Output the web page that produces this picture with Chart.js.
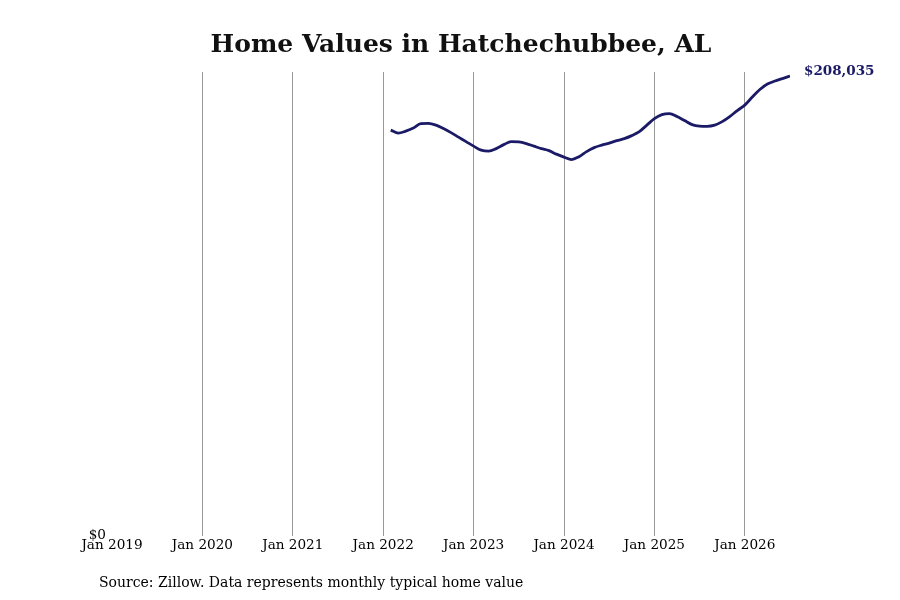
<!DOCTYPE html>
<html>
<head>
<meta charset="utf-8">
<script src="https://cdn.jsdelivr.net/npm/chart.js@4.4.1/dist/chart.umd.min.js"></script>
<style>
  html, body { margin: 0; padding: 0; background: #fff; }
  #wrap { width: 900px; height: 600px; }
</style>
</head>
<body>
<div id="wrap"><canvas id="chart" width="900" height="600"></canvas></div>
<script>
// monthly typical home value, Feb 2022 .. Jul 2026
const startMonth = "2022-02";
const homeValues = [
  183546, 182186, 183093, 184452, 186492, 186580, 185812, 184226, 182413, 180374, 178334,
  176295, 174482, 174029, 175162, 176975, 178334, 178198, 177428, 176295, 175162, 174255, 172669,
  171310, 170177, 171536, 173802, 175615, 176748, 177654, 178787, 179694, 181053, 182866, 185812,
  188758, 190571, 191024, 189664, 187851, 186038, 185359, 185268, 185812, 187398, 189664, 192383,
  194876, 198502, 201901, 204393, 205753, 206886, 208035
];
const tickYears = [2019, 2020, 2021, 2022, 2023, 2024, 2025, 2026];
const yTicks = [0];

const firstYear = tickYears[0];
const [sy, sm] = startMonth.split("-").map(Number);
const startIdx = (sy - firstYear) * 12 + (sm - 1);
const points = homeValues.map((v, i) => ({ x: startIdx + i, y: v }));
const lastIdx = startIdx + homeValues.length - 1;

const serif = "'DejaVu Serif', serif";
const navy = "#1a1a66";

// title, end label and source note
const textPlugin = {
  id: "texts",
  afterDraw(chart) {
    const { ctx } = chart;
    ctx.save();
    ctx.fillStyle = "#111";
    ctx.font = "bold 25px " + serif;
    ctx.textAlign = "center";
    ctx.textBaseline = "alphabetic";
    ctx.fillText("Home Values in Hatchechubbee, AL", 461, 52);

    const meta = chart.getDatasetMeta(0);
    const last = meta.data[meta.data.length - 1];
    ctx.fillStyle = navy;
    ctx.font = "bold 13.5px " + serif;
    ctx.textAlign = "left";
    ctx.textBaseline = "middle";
    ctx.fillText("$" + homeValues[homeValues.length - 1].toLocaleString("en-US"), last.x + 14, last.y - 5);

    ctx.fillStyle = "#000";
    ctx.font = "14px " + serif;
    ctx.textBaseline = "alphabetic";
    ctx.fillText("Source: Zillow. Data represents monthly typical home value", 99, 587);
    ctx.restore();
  }
};

new Chart(document.getElementById("chart"), {
  type: "line",
  data: {
    datasets: [{
      data: points,
      borderColor: navy,
      borderWidth: 2.8,
      pointRadius: 0,
      tension: 0.4,
      cubicInterpolationMode: "monotone",
      fill: false
    }]
  },
  options: {
    responsive: false,
    animation: false,
    layout: { padding: { left: 0, right: 110, top: 72, bottom: 44 } },
    plugins: {
      legend: { display: false },
      title: { display: false },
      tooltip: { enabled: false }
    },
    scales: {
      x: {
        type: "linear",
        min: 0,
        max: lastIdx,
        afterBuildTicks: (scale) => {
          scale.ticks = tickYears.map((y) => ({ value: (y - firstYear) * 12 }));
        },
        ticks: {
          autoSkip: false,
          maxRotation: 0,
          padding: 2,
          color: "#000",
          font: { family: serif, size: 13.6 },
          callback: (v) => "Jan " + (firstYear + v / 12)
        },
        grid: {
          drawTicks: false,
          color: (c) => (c.index === 0 ? "rgba(0,0,0,0)" : "#999"),
          lineWidth: 1
        },
        border: { display: false }
      },
      y: {
        min: 0,
        max: 209850,
        afterBuildTicks: (scale) => {
          scale.ticks = yTicks.map((v) => ({ value: v }));
        },
        afterFit: (scale) => { scale.width = 112; },
        ticks: {
          padding: 6,
          color: "#000",
          font: { family: serif, size: 13.6 },
          callback: (v) => "$" + v.toLocaleString("en-US")
        },
        grid: { display: false, drawTicks: false },
        border: { display: false }
      }
    }
  },
  plugins: [textPlugin]
});
</script>
</body>
</html>
